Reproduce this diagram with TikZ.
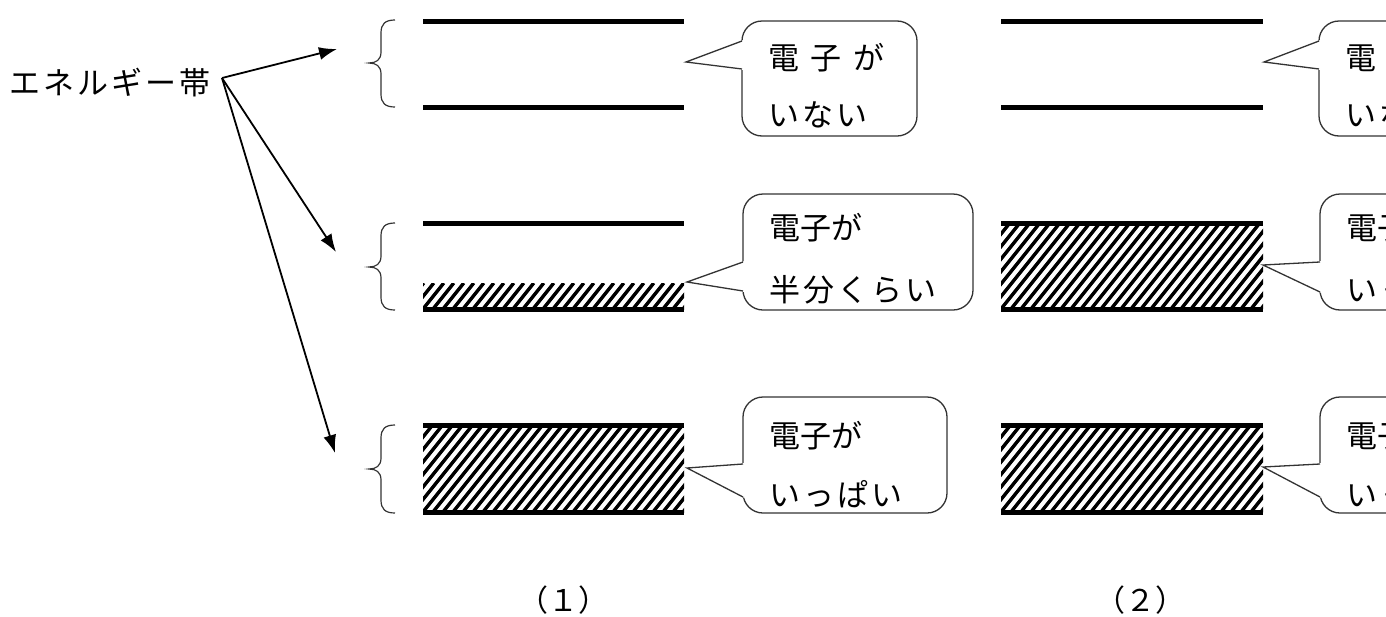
\documentclass[tikz,border=0pt]{standalone}
\usepackage{fontspec}
\newfontfamily\jp{Noto Sans CJK JP}
\newfontfamily\jpl[LetterSpace=10]{Noto Sans CJK JP}
\newfontfamily\jpw[LetterSpace=38]{Noto Sans CJK JP}
\usetikzlibrary{arrows.meta}
\newcommand\hatchband[4]{%
  \begin{scope}
    \clip (#1,#3) rectangle (#2,#4);
    \pgfmathsetmacro\hh{#4-#3}
    \foreach \i in {0,...,38}{
      \draw[hatchline] ({#1-90+10*\i},#4) -- ({#1-90+10*\i+0.8*\hh},#3);
    }
  \end{scope}}
\begin{document}
\begin{tikzpicture}[x=1pt,y=-1pt,
  bandline/.style={line width=5pt},
  hatchline/.style={line width=3.4pt},
  cline/.style={line width=1.3pt, draw=black!80},
  cbox/.style={cline, rectangle, rounded corners=20pt, fill=white, inner sep=0pt, outer sep=0pt, anchor=north west},
  jtext/.style={inner sep=0pt, anchor=base west, font=\jp\fontsize{31pt}{31pt}\selectfont},
  arr/.style={line width=1.8pt, -{Latex[length=18pt,width=13pt]}},
  bracestyle/.style={line width=1.2pt, draw=black!80},
]
\useasboundingbox (0,0) rectangle (1386,616);
\clip (0,0) rectangle (1386,616);

% label and arrows
\node[jtext] (band) at (9,94) {\jpl エネルギー帯};
\coordinate (o) at (222,78);
\coordinate (t1) at (337,49);
\coordinate (t2) at (336,252);
\coordinate (t3) at (335,453);
\draw[arr] (o) -- (t1);
\draw[arr] (o) -- (t2);
\draw[arr] (o) -- (t3);

% braces
\foreach \Ty/\By/\M in {20/107/63, 223/310/267, 425/513/469}{
  \draw[bracestyle] (395,\Ty) .. controls (385,\Ty) and (381,{\Ty+4}) .. (381,{\Ty+13})
    -- (381,{\M-11}) .. controls (381,{\M-3}) and (376,\M) .. (369,\M)
    .. controls (376,\M) and (381,{\M+3}) .. (381,{\M+11})
    -- (381,{\By-13}) .. controls (381,{\By-4}) and (385,\By) .. (395,\By);
}

% ---------- column (1) ----------
\draw[bandline] (423,21) -- (684,21);
\draw[bandline] (423,107) -- (684,107);
\hatchband{423}{684}{283}{309}
\draw[bandline] (423,223) -- (684,223);
\draw[bandline] (423,309) -- (684,309);
\hatchband{423}{684}{425}{512}
\draw[bandline] (423,425) -- (684,425);
\draw[bandline] (423,512) -- (684,512);

% ---------- column (2) ----------
\draw[bandline] (1001,21) -- (1263,21);
\draw[bandline] (1001,107) -- (1263,107);
\hatchband{1001}{1263}{223}{309}
\draw[bandline] (1001,223) -- (1263,223);
\draw[bandline] (1001,309) -- (1263,309);
\hatchband{1001}{1263}{425}{512}
\draw[bandline] (1001,425) -- (1263,425);
\draw[bandline] (1001,512) -- (1263,512);

% ---------- callouts column (1) ----------
\node[cbox, minimum width=175pt, minimum height=115pt] (c1a) at (742,21) {};
\coordinate (p1a) at (686,62);
\fill[white] (743.5,40) -- (p1a) -- (743.5,70) -- cycle;
\draw[cline] (742,41) -- (p1a) -- (742,69);
\node[jtext] (s1a1) at (768,69.5) {\jpw 電子が};
\node[jtext] (s1a2) at (768,126.5) {\jpl いない};

\node[cbox, minimum width=230pt, minimum height=116pt] (c1b) at (743,194) {};
\coordinate (p1b) at (687,282);
\fill[white] (744.5,261) -- (p1b) -- (744.5,292) -- cycle;
\draw[cline] (743,262) -- (p1b) -- (743,291);
\node[jtext] (s1b1) at (769,239.5) {電子が};
\node[jtext] (s1b2) at (769,301) {\jpl 半分くらい};

\node[cbox, minimum width=204pt, minimum height=116pt] (c1c) at (743,397) {};
\coordinate (p1c) at (687,468);
\fill[white] (744.5,463) -- (p1c) -- (744.5,498) -- cycle;
\draw[cline] (743,464) -- (p1c) -- (743,497);
\node[jtext] (s1c1) at (769,447.5) {電子が};
\node[jtext] (s1c2) at (769,506) {\jpl いっぱい};

% ---------- callouts column (2) ----------
\node[cbox, minimum width=175pt, minimum height=115pt] (c2a) at (1319,21) {};
\coordinate (p2a) at (1264,62);
\fill[white] (1320.5,40) -- (p2a) -- (1320.5,70) -- cycle;
\draw[cline] (1319,41) -- (p2a) -- (1319,69);
\node[jtext] (s2a1) at (1345,69.5) {\jpw 電子が};
\node[jtext] (s2a2) at (1345,126.5) {\jpl いない};

\node[cbox, minimum width=230pt, minimum height=116pt] (c2b) at (1320,194) {};
\coordinate (p2b) at (1263,265);
\fill[white] (1321.5,261) -- (p2b) -- (1321.5,293) -- cycle;
\draw[cline] (1320,262) -- (p2b) -- (1320,292);
\node[jtext] (s2b1) at (1346,239.5) {電子が};
\node[jtext] (s2b2) at (1346,301) {\jpl いっぱい};

\node[cbox, minimum width=204pt, minimum height=116pt] (c2c) at (1320,397) {};
\coordinate (p2c) at (1263,467);
\fill[white] (1321.5,463) -- (p2c) -- (1321.5,498) -- cycle;
\draw[cline] (1320,464) -- (p2c) -- (1320,497);
\node[jtext] (s2c1) at (1346,447.5) {電子が};
\node[jtext] (s2c2) at (1346,506) {\jpl いっぱい};

% captions
\node[inner sep=0pt, font=\jp\fontsize{30pt}{30pt}\selectfont] (n1) at (563,600) {（１）};
\node[inner sep=0pt, font=\jp\fontsize{30pt}{30pt}\selectfont] (n2) at (1140,600) {（２）};
\end{tikzpicture}
\end{document}
